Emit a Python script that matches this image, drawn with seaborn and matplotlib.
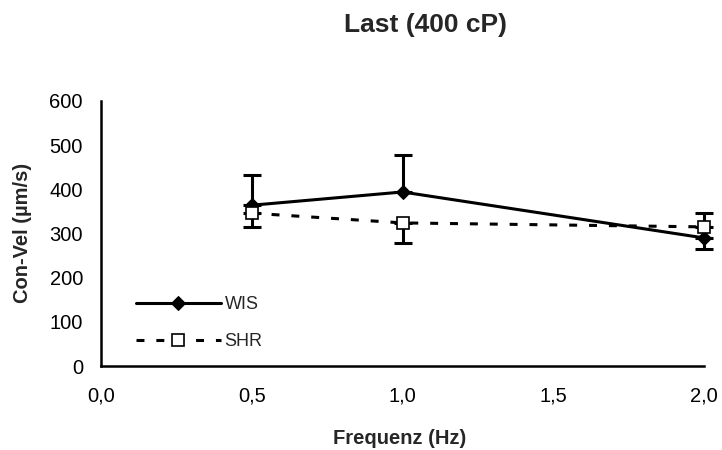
import matplotlib
matplotlib.use("Agg")
import matplotlib.pyplot as plt
import seaborn as sns
import pandas as pd

# Frequencies and mean contraction velocities
freq = [0.5, 1.0, 2.0]
wis_mean = [364, 394, 290]
shr_mean = [346, 324, 315]
# One-sided error bars (WIS upward except at 2 Hz, SHR downward except at 2 Hz)
wis_err_low = [0, 0, 25]
wis_err_high = [68, 84, 0]
shr_err_low = [31, 46, 0]
shr_err_high = [0, 0, 31]

x_ticks = [0.0, 0.5, 1.0, 1.5, 2.0]
x_ticklabels = ["0,0", "0,5", "1,0", "1,5", "2,0"]
y_ticks = [0, 100, 200, 300, 400, 500, 600]

sns.set_theme(style="white")
plt.rcParams["font.family"] = ["Liberation Sans", "DejaVu Sans"]

df = pd.DataFrame({
    "freq": freq * 2,
    "vel": wis_mean + shr_mean,
    "group": ["WIS"] * 3 + ["SHR"] * 3,
})

W, H = 722, 450
fig = plt.figure(figsize=(W / 100, H / 100), dpi=100)
ax = fig.add_axes([101 / W, 1 - 366 / H, (704 - 101) / W, (366 - 101) / H])

lw = 2.2
for mean, lo, hi in [(wis_mean, wis_err_low, wis_err_high),
                     (shr_mean, shr_err_low, shr_err_high)]:
    eb = ax.errorbar(freq, mean, yerr=[lo, hi], fmt="none", ecolor="black",
                     elinewidth=lw, capsize=6.5, capthick=lw, zorder=2)
    for art in eb.lines[1] + eb.lines[2]:
        art.set_clip_on(False)

sns.lineplot(data=df[df.group == "WIS"], x="freq", y="vel", ax=ax, color="black",
             lw=lw, marker="D", markersize=7, markeredgecolor="black",
             markerfacecolor="black", label="WIS", zorder=3, clip_on=False)
sns.lineplot(data=df[df.group == "SHR"], x="freq", y="vel", ax=ax, color="black",
             lw=lw, linestyle=(0, (2.6, 3.9)), marker="s", markersize=8,
             markeredgecolor="black", markeredgewidth=1.2, markerfacecolor="white",
             label="SHR", zorder=4, clip_on=False)

ax.set_xlim(0, 2.0)
ax.set_ylim(0, 600)
ax.set_xticks(x_ticks)
ax.set_xticklabels(x_ticklabels)
ax.set_yticks(y_ticks)

for side in ["top", "right"]:
    ax.spines[side].set_visible(False)
for side in ["left", "bottom"]:
    ax.spines[side].set_linewidth(1.8)
    ax.spines[side].set_color("black")

ax.tick_params(axis="both", direction="in", length=5, width=1.8, colors="black",
               labelsize=14.5)
ax.tick_params(axis="x", pad=15)
ax.tick_params(axis="y", pad=13)

ax.set_xlabel("Frequenz (Hz)", fontsize=14.5, fontweight="bold")
ax.set_ylabel("Con-Vel (µm/s)", fontsize=14.5, fontweight="bold")
ax.xaxis.set_label_coords((400 - 101) / 603, -(438 - 366) / 265)
ax.yaxis.set_label_coords(-(101 - 22) / 603, (366 - 233) / 265)
ax.xaxis.label.set_va("center")
ax.yaxis.label.set_va("center")

fig.text(425 / W, 1 - 25 / H, "Last (400 cP)", fontsize=19, fontweight="bold",
         ha="center", va="center")

leg = ax.legend(loc="upper left", bbox_to_anchor=(136 / W, 1 - 296 / H),
                bbox_transform=fig.transFigure, frameon=False,
                fontsize=13, handlelength=4.7, handletextpad=0.2,
                labelspacing=1.1, borderaxespad=0, borderpad=0)
for h in leg.legend_handles:
    h.set_linewidth(lw)

fig.savefig("out.png", dpi=100, facecolor="white")
